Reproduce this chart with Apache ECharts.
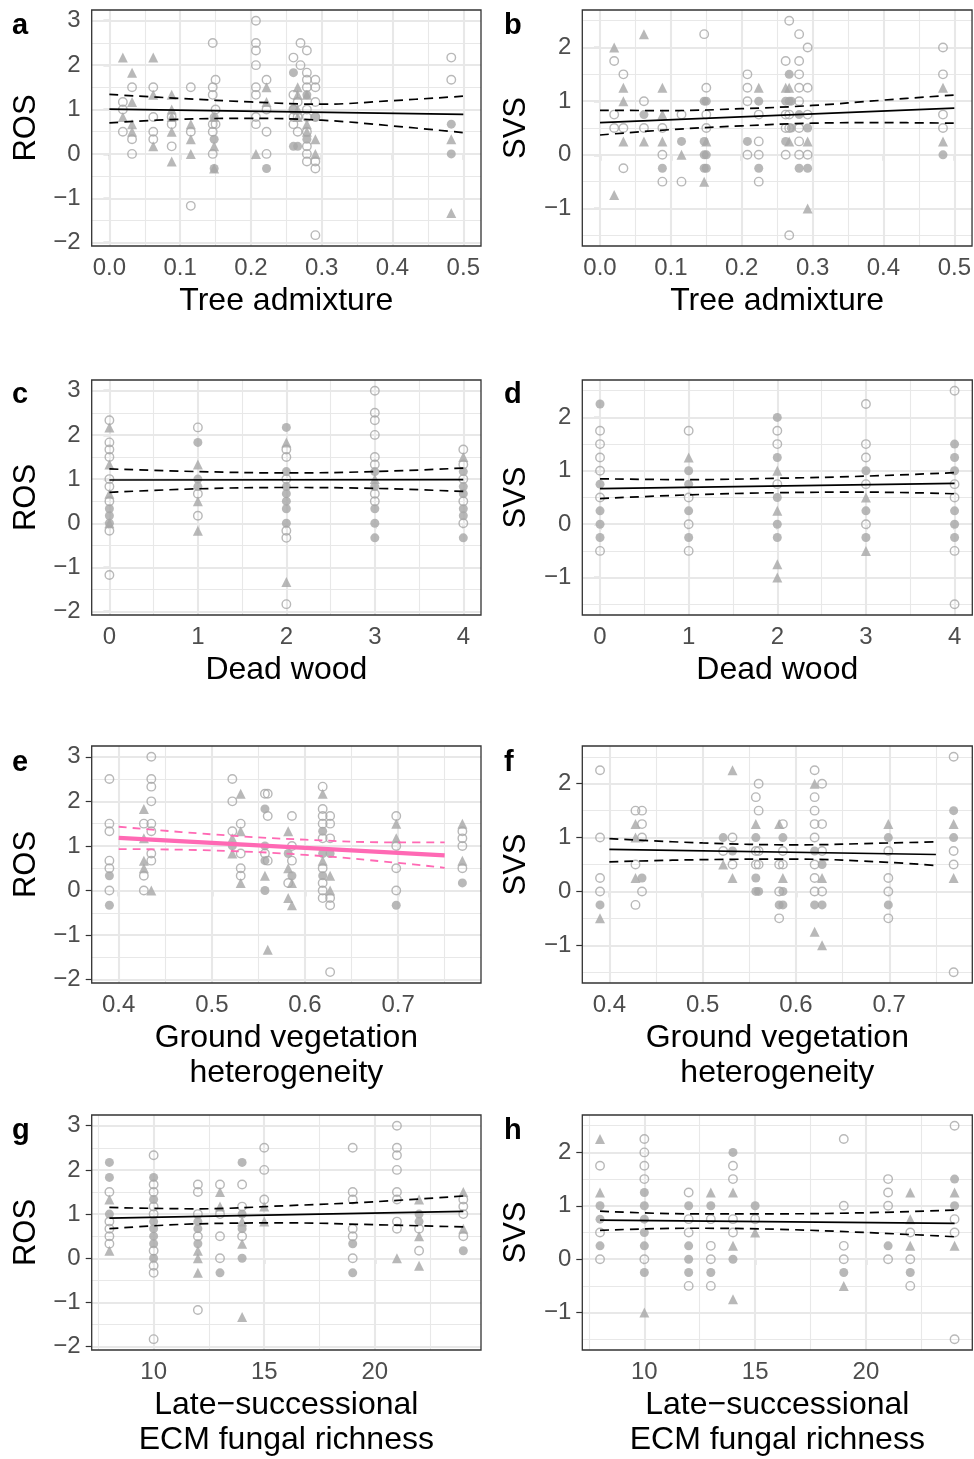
<!DOCTYPE html>
<html>
<head>
<meta charset="utf-8">
<script src="https://cdn.jsdelivr.net/npm/echarts@6.0.0/dist/echarts.min.js"></script>
<style>
html, body { margin: 0; padding: 0; background: #fff; }
#main { width: 974px; height: 1459px; }
</style>
</head>
<body>
<div id="main"></div>
<script>
var FONT = '"Liberation Sans", Arial, sans-serif';
var GREY = '#a6a6a6';
var PINK = '#ff69b4';

// tick values
var rosTicks = [-2, -1, 0, 1, 2, 3];
var rosMinor = [-1.5, -0.5, 0.5, 1.5, 2.5];
var svsTicks = [-1, 0, 1, 2];
var svsMinor = [-1.5, -0.5, 0.5, 1.5, 2.5];
var treeTicks = [0, 0.1, 0.2, 0.3, 0.4, 0.5];
var treeMinor = [0.05, 0.15, 0.25, 0.35, 0.45];
var deadTicks = [0, 1, 2, 3, 4];
var deadMinor = [0.5, 1.5, 2.5, 3.5];
var vegTicks = [0.4, 0.5, 0.6, 0.7];
var vegMinor = [0.45, 0.55, 0.65, 0.75];
var ecmTicks = [10, 15, 20];
var ecmMinor = [7.5, 12.5, 17.5, 22.5];

// axis limits (data range + 5%)
var rosRange = [-2.075, 3.242];
var svsRange = [-1.7, 2.7];
var treeRange = [-0.025, 0.525];
var deadRange = [-0.2, 4.2];
var vegRange = [0.371, 0.789];
var ecmRange = [7.2, 24.8];

// points: [x, [y, y, ...]]  circle = open, tri = triangle, dot = filled circle
var aCircle = [[0.019, [1.17, 1.0, 0.5]], [0.032, [1.5, 0.33, 0]], [0.062, [1.5, 0.83, 0.5, 0.33]],
    [0.088, [0.83, 0.67, 0.17]], [0.115, [1.5, 0.5, -1.17]], [0.146, [2.5, 1.5, 1.33, 0.67, 0.5, 0]],
    [0.150, [1.67, 1.0, 0.67]], [0.207, [3.0, 2.5, 2.33, 2.0, 1.5, 1.33, 0.83, 0.67]],
    [0.222, [1.67, 1.0, 0.5, 0]], [0.260, [2.17, 1.33, 1.0, 0.83, 0.67]], [0.266, [1.17, 0.83, 0.5]],
    [0.270, [2.5, 2.0]], [0.279, [2.33, 1.83, 1.67, 1.5, 1.0, 0.83, 0.5, 0.17, 0, -0.17]],
    [0.291, [1.67, 1.5, 1.17, 0.83, -0.17, -0.33, -1.83]], [0.483, [2.17, 1.67]]];
var aTri = [[0.019, [2.17, 0.83]], [0.032, [1.83, 1.17, 0.67, 0.5]], [0.062, [2.17, 1.33, 0.17]],
    [0.088, [1.33, 1.0, 0.83, 0.5, -0.17]], [0.115, [0.67, 0.33, 0]], [0.148, [0.83, 0.17, -0.33]],
    [0.207, [0]], [0.222, [1.5, 1.17]], [0.266, [1.5, 1.33, 1.0, 0.83]], [0.279, [1.33, 0.67, 0.5]],
    [0.291, [0.33, 0]], [0.483, [0.33, -1.33]]];
var aDot = [[0.148, [0.83, 0.33, -0.33]], [0.222, [-0.33]], [0.260, [1.83, 1.0, 0.17]], [0.266, [0.17]],
    [0.279, [1.33, 0.33]], [0.291, [0.83]], [0.483, [0.67, 0]]];

var bCircle = [[0.020, [1.75, 0.75, 0.5]], [0.033, [1.5, 0.5, -0.25]], [0.062, [1.0, 0.5]],
    [0.088, [0.5, 0, -0.5]], [0.115, [0.75, -0.5]], [0.147, [2.25]], [0.150, [1.25, 0.75, 0.5]],
    [0.208, [1.5, 1.25, 1.0, 0]], [0.224, [0.75, 0.25, 0, -0.5]], [0.262, [1.75, 0.75, 0.5, 0]],
    [0.267, [2.5, 0.75, 0.5, -1.5]], [0.281, [2.25, 1.75, 1.5, 1.25, 1.0, 0.5, 0.25, 0]],
    [0.293, [2.0, 1.25, 0.75, 0]], [0.484, [2.0, 1.5, 0.75, 0.5]]];
var bTri = [[0.020, [2.0, -0.75]], [0.033, [1.25, 1.0, 0.25]], [0.062, [2.25, 0.25]],
    [0.088, [1.25, 0.75, 0.25]], [0.115, [0]], [0.147, [-0.5]], [0.150, [0.25]], [0.224, [1.25]],
    [0.262, [1.25]], [0.267, [1.25, 0.25]], [0.293, [0.25, -1.0]], [0.484, [1.25, 0.25]]];
var bDot = [[0.062, [0.75]], [0.088, [-0.25]], [0.115, [0.25]], [0.147, [1.0, 0.25, 0, -0.25]],
    [0.150, [1.0, 0, -0.25]], [0.208, [0.25]], [0.224, [1.0, -0.25]], [0.262, [1.0, 0.25]],
    [0.267, [1.5, 1.0]], [0.270, [1.0, 0.5]], [0.281, [0.75, -0.25]], [0.293, [0.5, -0.25]], [0.484, [0]]];

var cCircle = [[0, [2.33, 1.83, 1.67, 1.5, 1.0, 0.83, 0.5, -0.17, -1.17]], [1, [2.17, 0.67, 0.17]],
    [2, [1.67, 1.5, 1.0, -0.17, -0.33, -1.83]], [3, [3.0, 2.5, 2.33, 2.0, 1.5, 1.33, 0.67, 0.5]],
    [4, [1.67, 1.33, 1.0, 0.5, 0]]];
var cTri = [[0, [2.17, 1.33, 0.67, 0]], [1, [1.33, 0.5, -0.17]], [2, [1.83, -1.33]], [3, [1.0]], [4, [1.5]]];
var cDot = [[0, [0.33, 0.17, 0]], [1, [1.83, 1.0, 0.83]], [2, [2.17, 1.17, 0.83, 0.67, 0.5, 0.33, 0]],
    [3, [1.17, 0.83, 0.33, 0, -0.33]], [4, [1.17, 0.83, 0.67, 0.33, 0.17, -0.33]]];

var dCircle = [[0, [1.75, 1.5, 1.25, 1.0, 0.5, -0.5]], [1, [1.75, 0.5, 0, -0.5]], [2, [1.75, 1.5, 0.75]],
    [3, [2.25, 1.5, 1.25, 0.75, 0]], [4, [2.5, 0.75, 0.5, -0.5, -1.5]]];
var dTri = [[1, [1.25]], [2, [1.0, 0.25, -0.75, -1.0]], [3, [0.5, -0.5]]];
var dDot = [[0, [2.25, 0.75, 0.25, 0, -0.25]], [1, [1.0, 0.75, 0.25, -0.25]], [2, [2.0, 1.25, 0.5, 0, -0.25]],
    [3, [1.0, 0.25, -0.25]], [4, [1.5, 1.25, 1.0, 0.25, 0, -0.25]]];

var eCircle = [[0.390, [2.5, 1.5, 1.33, 0.67, 0.5, 0]], [0.427, [1.5, 0.33, 0]],
    [0.435, [3.0, 2.5, 2.33, 2.0, 1.5, 1.33, 0.83, 0.67]], [0.522, [2.5, 2.0, 1.33]],
    [0.531, [1.5, 0.83, 0.5, 0.33]], [0.557, [2.17, 0.83]], [0.560, [2.17, 1.67, 0.67]], [0.582, [0.17]],
    [0.586, [1.67, 1.0, 0.67]], [0.619, [2.33, 1.83, 1.67, 1.5, 1.17, 0.5, 0.17, 0, -0.17]],
    [0.627, [1.67, 1.5, 1.17, -0.17, -0.33, -1.83]], [0.698, [1.67, 1.0, 0.5, 0]], [0.769, [1.33, 1.17, 1.0, 0.5]]];
var eTri = [[0.427, [1.83, 1.17, 0.67, 0.5]], [0.435, [0]], [0.522, [1.17, 0.83]], [0.531, [2.17, 1.33, 0.17]],
    [0.557, [0.33]], [0.560, [-1.33]], [0.582, [1.33, 0.5, -0.17]], [0.586, [0.17, -0.33]],
    [0.619, [2.17, 0.67]], [0.627, [0.33, 0]], [0.698, [1.5, 1.17]], [0.769, [1.5, 0.67]]];
var eDot = [[0.390, [0.33, -0.33]], [0.522, [1.0]], [0.557, [1.83, 1.0, 0.67, 0]], [0.582, [0.83]],
    [0.586, [0.33]], [0.619, [1.33, 0.83, 0.33]], [0.627, [0.83]], [0.698, [-0.33]], [0.769, [0.17]]];

var fCircle = [[0.390, [2.25, 1.0, 0.25, 0]], [0.428, [1.5, 0.5, -0.25]], [0.435, [1.5, 1.25, 1.0, 0]],
    [0.522, [0.75]], [0.532, [1.0, 0.5]], [0.557, [1.75, 0.75, 0.5]], [0.560, [2.0, 1.5, 0.75, 0.5]],
    [0.582, [0.5, 0, -0.5]], [0.586, [1.25, 0.75, 0.5]], [0.620, [2.25, 1.75, 1.5, 1.25, 1.0, 0.5, 0.25, 0]],
    [0.628, [2.0, 1.25, 0.75, 0]], [0.699, [0.75, 0.25, 0, -0.5]], [0.769, [2.5, 0.75, 0.5, -1.5]]];
var fTri = [[0.390, [-0.5]], [0.428, [1.25, 1.0, 0.25]], [0.522, [0.5]], [0.532, [2.25, 0.25]],
    [0.557, [1.25]], [0.582, [1.25]], [0.586, [0.25]], [0.620, [2.0, -0.75]], [0.628, [0.25, -1.0]],
    [0.699, [1.25]], [0.769, [1.25, 0.25]]];
var fDot = [[0.390, [-0.25]], [0.435, [0.25]], [0.522, [1.0]], [0.532, [0.75]], [0.557, [1.0, 0.25, 0]],
    [0.560, [0]], [0.582, [-0.25]], [0.586, [1.0, 0, -0.25]], [0.620, [0.75, -0.25]], [0.628, [0.5, -0.25]],
    [0.699, [1.0, -0.25]], [0.769, [1.5, 1.0]]];

var gCircle = [[8, [1.5, 0.83, 0.67, 0.5, 0.33]], [10, [2.33, 1.67, 1.5, 1.17, 1.0, 0.17, -0.17, -0.33, -1.83]],
    [12, [1.67, 1.5, 1.0, 0.5, -1.17]], [13, [1.67, 1.0, 0.5, 0]], [14, [1.67, 1.17, 0.5]], [15, [2.5, 2.0, 1.33]],
    [19, [2.5, 1.5, 1.33, 0.67, 0.5, 0]], [21, [3.0, 2.5, 2.33, 2.0, 1.5, 1.33, 0.83, 0.67]],
    [22, [0.67, 0.17]], [24, [1.33, 1.17, 1.0, 0.5]]];
var gTri = [[8, [1.33, 0.17]], [12, [0.17, 0, -0.33]], [13, [1.5, 1.17]], [14, [0.83, 0.33, -1.33]],
    [15, [1.17, 0.83]], [21, [0]], [22, [1.33, 0.5, -0.17]], [24, [1.5, 0.67]]];
var gDot = [[8, [2.17, 1.83, 1.0]], [10, [1.83, 1.33, 0.83, 0.67, 0.5, 0.33, 0]], [12, [0.83, 0.67, 0.33]],
    [13, [-0.33]], [14, [2.17, 1.0, 0.67, 0]], [19, [0.33, -0.33]], [22, [1.0, 0.83]], [24, [0.17]]];

var hCircle = [[8, [1.75, 0.5, 0]], [10, [2.25, 2.0, 1.75, 1.5, 0]], [12, [1.25, 0.75, 0.5, -0.5]],
    [13, [0.75, 0.25, 0, -0.5]], [14, [1.75, 1.5, 0.75, 0.5]], [15, [0.75]], [19, [2.25, 1.0, 0.25, 0]],
    [21, [1.5, 1.25, 1.0, 0]], [22, [0.5, 0, -0.5]], [24, [2.5, 0.75, 0.5, -1.5]]];
var hTri = [[8, [2.25, 1.25]], [10, [-1.0]], [13, [1.25]], [14, [1.25, 0.25, -0.75]], [15, [0.5]],
    [19, [-0.5]], [22, [1.25, 0.75, 0.25]], [24, [1.25, 0.25]]];
var hDot = [[8, [1.0, 0.75, 0.25]], [10, [1.25, 1.0, 0.75, 0.5, 0.25, -0.25]], [12, [1.0, 0.25, 0, -0.25]],
    [13, [1.0, -0.25]], [14, [2.0, 0]], [15, [1.0]], [19, [-0.25]], [21, [0.25]], [22, [-0.25]], [24, [1.5, 1.0]]];

// fitted lines and confidence limits
var aFit = [[0, 1.01], [0.5, 0.89]];
var aUpper = [[0, 1.34], [0.1, 1.25], [0.2, 1.17], [0.3, 1.12], [0.4, 1.2], [0.5, 1.3]];
var aLower = [[0, 0.7], [0.1, 0.78], [0.2, 0.8], [0.3, 0.76], [0.4, 0.63], [0.5, 0.48]];
var bFit = [[0, 0.6], [0.5, 0.87]];
var bUpper = [[0, 0.83], [0.1, 0.825], [0.2, 0.86], [0.3, 0.92], [0.4, 1.02], [0.5, 1.115]];
var bLower = [[0, 0.37], [0.1, 0.47], [0.2, 0.54], [0.3, 0.59], [0.4, 0.6], [0.5, 0.59]];
var cFit = [[0, 0.98], [4, 0.99]];
var cUpper = [[0, 1.23], [1, 1.17], [2, 1.14], [3, 1.17], [4, 1.25]];
var cLower = [[0, 0.7], [1, 0.78], [2, 0.81], [3, 0.79], [4, 0.72]];
var dFit = [[0, 0.667], [4, 0.766]];
var dUpper = [[0, 0.85], [1, 0.835], [2, 0.86], [3, 0.9], [4, 0.965]];
var dLower = [[0, 0.48], [1, 0.55], [2, 0.59], [3, 0.6], [4, 0.57]];
var eFit = [[0.4, 1.18], [0.75, 0.79]];
var eUpper = [[0.4, 1.43], [0.5, 1.26], [0.6, 1.14], [0.7, 1.08], [0.75, 1.08]];
var eLower = [[0.4, 0.93], [0.5, 0.9], [0.6, 0.8], [0.7, 0.62], [0.75, 0.51]];
var fFit = [[0.4, 0.78], [0.75, 0.686]];
var fUpper = [[0.4, 0.98], [0.5, 0.9], [0.6, 0.865], [0.7, 0.9], [0.75, 0.92]];
var fLower = [[0.4, 0.55], [0.5, 0.59], [0.6, 0.6], [0.7, 0.54], [0.75, 0.48]];
var gFit = [[8, 0.91], [24, 1.06]];
var gUpper = [[8, 1.15], [12, 1.12], [16, 1.19], [20, 1.28], [24, 1.41]];
var gLower = [[8, 0.67], [12, 0.78], [16, 0.8], [20, 0.76], [24, 0.71]];
var hFit = [[8, 0.73], [24, 0.67]];
var hUpper = [[8, 0.9], [12, 0.85], [16, 0.85], [20, 0.87], [24, 0.92]];
var hLower = [[8, 0.54], [12, 0.58], [16, 0.56], [20, 0.5], [24, 0.42]];

var xNames = ['Tree admixture', 'Dead wood', 'Ground vegetation\nheterogeneity', 'Late\u2212successional\nECM fungal richness'];
var yNames = ['ROS', 'SVS'];
var letters = ['a', 'b', 'c', 'd', 'e', 'f', 'g', 'h'];

function flat(cols) {
    var out = [];
    cols.forEach(function (c) {
        c[1].forEach(function (y) { out.push([c[0], y]); });
    });
    return out;
}
function minus(v) { return String(v).replace('-', '\u2212'); }
function oneDec(v) { return v.toFixed(1); }

var panels = [
    { c: aCircle, t: aTri, d: aDot, fit: aFit, up: aUpper, lo: aLower, x: 'tree', y: 'ros' },
    { c: bCircle, t: bTri, d: bDot, fit: bFit, up: bUpper, lo: bLower, x: 'tree', y: 'svs' },
    { c: cCircle, t: cTri, d: cDot, fit: cFit, up: cUpper, lo: cLower, x: 'dead', y: 'ros' },
    { c: dCircle, t: dTri, d: dDot, fit: dFit, up: dUpper, lo: dLower, x: 'dead', y: 'svs' },
    { c: eCircle, t: eTri, d: eDot, fit: eFit, up: eUpper, lo: eLower, x: 'veg', y: 'ros', pink: true },
    { c: fCircle, t: fTri, d: fDot, fit: fFit, up: fUpper, lo: fLower, x: 'veg', y: 'svs' },
    { c: gCircle, t: gTri, d: gDot, fit: gFit, up: gUpper, lo: gLower, x: 'ecm', y: 'ros' },
    { c: hCircle, t: hTri, d: hDot, fit: hFit, up: hUpper, lo: hLower, x: 'ecm', y: 'svs' }
];
var xAxes = {
    tree: { range: treeRange, ticks: treeTicks, minor: treeMinor, fmt: oneDec },
    dead: { range: deadRange, ticks: deadTicks, minor: deadMinor, fmt: minus },
    veg: { range: vegRange, ticks: vegTicks, minor: vegMinor, fmt: oneDec },
    ecm: { range: ecmRange, ticks: ecmTicks, minor: ecmMinor, fmt: minus }
};
var yAxes = {
    ros: { range: rosRange, ticks: rosTicks, minor: rosMinor },
    svs: { range: svsRange, ticks: svsTicks, minor: svsMinor }
};

var rowTop = [10, 380, 746, 1115];
var rowH = [236, 235, 237, 237];
var colLeft = [91.7, 582.3];
var colW = [389.3, 390];
var letterY = [23, 392, 760, 1128];
var letterX = [12, 504];

var option = {
    animation: false,
    backgroundColor: '#fff',
    textStyle: { fontFamily: FONT },
    grid: [], xAxis: [], yAxis: [], series: [], graphic: []
};

panels.forEach(function (p, i) {
    var row = Math.floor(i / 2), col = i % 2;
    var xa = xAxes[p.x], ya = yAxes[p.y];
    option.grid.push({
        left: colLeft[col], top: rowTop[row], width: colW[col], height: rowH[row],
        show: true, z: 4, backgroundColor: 'transparent', borderColor: '#333333', borderWidth: 1.3
    });
    option.xAxis.push({
        gridIndex: i, type: 'value', min: xa.range[0], max: xa.range[1],
        name: xNames[row], nameLocation: 'middle', nameGap: 38,
        nameTextStyle: { fontSize: 32, color: '#000', lineHeight: 35, fontFamily: FONT },
        axisLine: { show: false },
        axisTick: { show: true, length: 6, customValues: xa.ticks, lineStyle: { color: '#333333', width: 1.2 } },
        axisLabel: { customValues: xa.ticks, formatter: xa.fmt, fontSize: 24, color: '#4d4d4d', margin: 10, fontFamily: FONT },
        splitLine: { show: false }
    });
    option.yAxis.push({
        gridIndex: i, type: 'value', min: ya.range[0], max: ya.range[1],
        name: yNames[col], nameLocation: 'middle', nameGap: 50,
        nameTextStyle: { fontSize: 31, color: '#000', fontFamily: FONT },
        axisLine: { show: false },
        axisTick: { show: true, length: 6, customValues: ya.ticks, lineStyle: { color: '#333333', width: 1.2 } },
        axisLabel: { customValues: ya.ticks, formatter: minus, fontSize: 24, color: '#4d4d4d', margin: 11, fontFamily: FONT },
        splitLine: { show: false }
    });

    var lines = [];
    xa.minor.forEach(function (v) { lines.push({ xAxis: v, lineStyle: { width: 1.1 } }); });
    ya.minor.forEach(function (v) { lines.push({ yAxis: v, lineStyle: { width: 1.1 } }); });
    xa.ticks.forEach(function (v) { lines.push({ xAxis: v, lineStyle: { width: 2.1 } }); });
    ya.ticks.forEach(function (v) { lines.push({ yAxis: v, lineStyle: { width: 2.1 } }); });

    option.series.push({
        type: 'scatter', xAxisIndex: i, yAxisIndex: i, z: 2, silent: true,
        symbol: 'circle', symbolSize: 8.5,
        itemStyle: { color: 'rgba(0,0,0,0)', borderColor: GREY, borderWidth: 1.4 },
        data: flat(p.c),
        markLine: {
            silent: true, z: 1, animation: false, symbol: ['none', 'none'],
            label: { show: false }, emphasis: { disabled: true },
            lineStyle: { color: '#e8e8e8', type: 'solid', width: 2 },
            data: lines
        }
    });
    option.series.push({
        type: 'scatter', xAxisIndex: i, yAxisIndex: i, z: 2, silent: true,
        symbol: 'triangle', symbolSize: 10, itemStyle: { color: GREY },
        data: flat(p.t)
    });
    option.series.push({
        type: 'scatter', xAxisIndex: i, yAxisIndex: i, z: 2, silent: true,
        symbol: 'circle', symbolSize: 9, itemStyle: { color: GREY },
        data: flat(p.d)
    });
    var lc = p.pink ? PINK : '#000';
    option.series.push({
        type: 'line', xAxisIndex: i, yAxisIndex: i, z: 3, silent: true, showSymbol: false,
        lineStyle: { color: lc, width: p.pink ? 4.2 : 1.7 }, data: p.fit
    });
    [p.up, p.lo].forEach(function (d) {
        option.series.push({
            type: 'line', xAxisIndex: i, yAxisIndex: i, z: 3, silent: true, showSymbol: false, smooth: 0.4,
            lineStyle: { color: lc, width: p.pink ? 1.8 : 1.7, type: p.pink ? [8, 6] : [9, 6] }, data: d
        });
    });

    option.graphic.push({
        type: 'text', left: letterX[col], top: letterY[row] - 12,
        style: { text: letters[i], font: 'bold 29px ' + FONT, fill: '#000' }
    });
});

var myChart = echarts.init(document.getElementById('main'));
myChart.setOption(option);
</script>
</body>
</html>
